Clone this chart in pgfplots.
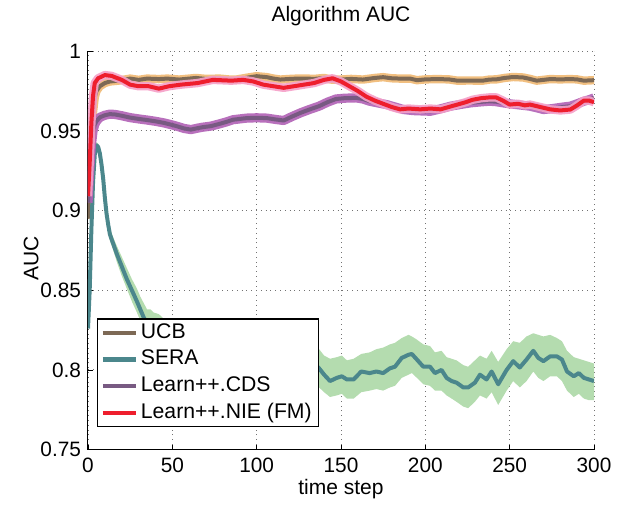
\documentclass[border=0pt]{standalone}
\usepackage{fontspec}
\setmainfont{Liberation Sans}
\usepackage{pgfplots}
\pgfplotsset{compat=1.18}
\usepackage{pgfplotstable}

\definecolor{ucbline}{HTML}{7D6955}
\definecolor{ucbband}{HTML}{EFB46A}
\definecolor{seraline}{HTML}{4B878C}
\definecolor{seraband}{HTML}{B4DCAF}
\definecolor{cdsline}{HTML}{785A82}
\definecolor{cdsband}{HTML}{B060B5}
\definecolor{nieline}{HTML}{EE1E2D}
\definecolor{nieband}{HTML}{F5A0C8}

% UCB mean AUC
\pgfplotstableread{
x y
0 0.895
1 0.920
2 0.945
3 0.962
4 0.971
5 0.975
7 0.978
10 0.980
13 0.981
18 0.9815
25 0.9828
30 0.9820
35 0.9828
42 0.9825
47 0.9828
54 0.9822
60 0.9828
64 0.9832
70 0.9826
78 0.9828
84 0.9822
88 0.9822
95 0.9835
100 0.9843
106 0.9837
110 0.9828
114 0.9822
120 0.9826
124 0.9828
130 0.9828
134 0.9826
140 0.9832
144 0.9822
150 0.9822
156 0.9826
163 0.9822
170 0.9832
175 0.9837
180 0.9830
185 0.9828
191 0.9828
195 0.9818
200 0.9823
207 0.9825
214 0.9823
219 0.9815
226 0.9816
234 0.9815
238 0.9822
242 0.9823
247 0.9832
252 0.9838
258 0.9835
262 0.9826
266 0.9815
270 0.9820
274 0.9825
280 0.9823
286 0.9825
290 0.9823
294 0.9815
300 0.9818
}\ucb

% SERA mean AUC
\pgfplotstableread{
x y
0 0.826
1 0.850
2 0.888
3 0.918
4 0.935
5 0.941
6 0.940
7 0.936
8 0.929
9 0.920
10 0.908
11 0.898
12 0.891
13 0.885
15 0.879
17 0.873
20 0.865
23 0.857
26 0.850
29 0.843
31 0.838
33 0.833
35 0.829
37 0.830
39 0.827
42 0.826
46 0.822
50 0.818
55 0.815
60 0.812
66 0.810
72 0.807
78 0.805
85 0.806
92 0.803
100 0.801
108 0.803
116 0.800
124 0.799
130 0.801
134 0.804
137 0.801
140 0.797
143.5 0.793
147.5 0.795
150.5 0.796
153.5 0.794
157.5 0.794
162 0.799
167 0.798
171 0.799
175 0.798
179 0.801
182 0.802
186 0.8075
190 0.8095
192 0.810
195 0.8065
198.8 0.802
202.8 0.802
205.7 0.798
209.6 0.800
212.6 0.795
215.6 0.793
218.5 0.792
222.5 0.789
225.4 0.789
229.4 0.792
232.4 0.797
236.3 0.794
239.3 0.799
243.2 0.791
248.2 0.800
252.1 0.8055
256 0.8015
260 0.8065
264 0.812
267 0.8075
270 0.8055
274 0.8085
278 0.8085
281 0.8065
284 0.799
288 0.796
291 0.798
294 0.795
297 0.794
300 0.793
}\sera

% SERA spread: upper edge forward, lower edge backward
\pgfplotstableread{
x y
0 0.826
1 0.851
2 0.890
3 0.920
4 0.937
5 0.943
6 0.942
7 0.938
8 0.932
9 0.923
10 0.911
11 0.901
12 0.894
13 0.889
15 0.883
17 0.878
20 0.871
23 0.864
26 0.857
29 0.851
31 0.846
33 0.842
35 0.838
37 0.838
39 0.836
42 0.835
46 0.831
50 0.828
55 0.825
60 0.822
66 0.820
72 0.818
78 0.816
85 0.817
92 0.814
100 0.812
108 0.815
116 0.812
124 0.811
130 0.813
134 0.815
137 0.813
140 0.809
143.5 0.807
147.5 0.808
150.5 0.809
153.5 0.806
157.5 0.807
162 0.810
167 0.811
171 0.813
175 0.814
179 0.816
182 0.817
186 0.820
190 0.822
192 0.821
195 0.819
198.8 0.816
202.8 0.815
205.7 0.811
209.6 0.812
212.6 0.808
215.6 0.807
218.5 0.806
222.5 0.803
225.4 0.802
229.4 0.806
232.4 0.809
236.3 0.807
239.3 0.812
243.2 0.805
248.2 0.813
252.1 0.818
256 0.817
260 0.821
264 0.823
267 0.822
270 0.821
274 0.822
278 0.820
281 0.818
284 0.812
288 0.808
291 0.807
294 0.806
297 0.805
300 0.804
300 0.781
297 0.781
294 0.782
291 0.785
288 0.783
284 0.787
281 0.793
278 0.796
274 0.796
270 0.793
267 0.795
264 0.799
260 0.793
256 0.789
252.1 0.793
248.2 0.787
243.2 0.778
239.3 0.786
236.3 0.782
232.4 0.784
229.4 0.780
225.4 0.776
222.5 0.777
218.5 0.780
215.6 0.782
212.6 0.784
209.6 0.787
205.7 0.787
202.8 0.790
198.8 0.791
195 0.795
192 0.798
190 0.797
186 0.795
182 0.790
179 0.789
175 0.787
171 0.788
167 0.787
162 0.786
157.5 0.782
153.5 0.782
150.5 0.785
147.5 0.784
143.5 0.783
140 0.786
137 0.789
134 0.792
130 0.789
124 0.788
116 0.789
108 0.792
100 0.790
92 0.792
85 0.795
78 0.794
72 0.797
66 0.800
60 0.803
55 0.806
50 0.809
46 0.813
42 0.817
39 0.819
37 0.822
35 0.821
33 0.826
31 0.831
29 0.836
26 0.843
23 0.851
20 0.859
17 0.868
15 0.875
13 0.881
12 0.888
11 0.895
10 0.905
9 0.917
8 0.926
7 0.934
6 0.938
5 0.939
4 0.933
3 0.916
2 0.886
1 0.849
0 0.826
}\seraband

% Learn++.CDS mean AUC
\pgfplotstableread{
x y
0 0.905
1 0.925
2 0.941
3 0.950
4 0.954
5 0.956
7 0.9585
10 0.9598
13 0.9605
16 0.9603
20 0.9595
25 0.9583
30 0.9575
35 0.9568
40 0.9560
45 0.9550
50 0.9537
53 0.9528
57 0.9515
61 0.9508
65 0.9517
68 0.9523
73 0.9530
78 0.9544
82 0.9556
86 0.9570
90 0.9575
94 0.9580
100 0.9582
106 0.9580
111 0.9572
116 0.9565
121 0.9590
126 0.9613
131 0.9633
137 0.9655
142 0.9680
147 0.9700
152 0.9705
159 0.9707
163 0.9700
167 0.9686
172 0.9675
177 0.9665
182 0.9650
187 0.9634
193 0.9627
198 0.9625
203 0.9623
209 0.9638
215 0.9655
221 0.9666
227 0.9676
233 0.9682
238 0.9686
242 0.9683
246 0.9676
250 0.9670
254 0.9665
258 0.9660
262 0.9655
266 0.9645
270 0.9634
274 0.9638
278 0.9644
282 0.9650
286 0.9655
290 0.9670
294 0.9686
297 0.9695
300 0.9707
}\cds

% Learn++.NIE (FM) mean AUC
\pgfplotstableread{
x y
0 0.909
1 0.930
2 0.955
3 0.972
4 0.980
6 0.983
10 0.985
14 0.9845
20 0.982
25 0.979
30 0.978
36 0.978
42 0.9765
48 0.978
55 0.979
65 0.980
74 0.982
85 0.9815
92 0.982
98 0.981
104 0.979
110 0.978
116 0.977
122 0.978
128 0.979
134 0.980
140 0.982
145 0.983
150 0.981
155 0.978
160 0.975
165 0.9715
170 0.969
175 0.967
180 0.965
185 0.9635
190 0.964
197 0.9635
203 0.964
209 0.9635
214 0.965
219 0.9665
224 0.968
228 0.9695
233 0.9705
238 0.971
242 0.971
246 0.969
250 0.9665
255 0.967
259 0.966
262 0.9665
268 0.965
274 0.9635
280 0.9628
286 0.9634
290 0.966
294 0.969
297 0.969
300 0.968
}\nie

\begin{document}
\begin{tikzpicture}
\begin{axis}[
  scale only axis,
  width=253pt,
  height=199.2pt,
  xmin=0, xmax=300,
  ymin=0.75, ymax=1,
  xtick={0,50,...,300},
  ytick={0.75,0.8,0.85,0.9,0.95,1},
  axis lines=left,
  axis line style={-, black, line width=0.5pt},
  tick align=inside,
  major tick length=2.5pt,
  tick style={black, line width=0.4pt},
  grid=major,
  major grid style={dotted, black!55, line width=0.45pt},
  /pgf/number format/assume math mode=true,
  yticklabel style={/pgf/number format/fixed, /pgf/number format/precision=2},
  ticklabel style={font=\fontsize{10.4}{12}\selectfont},
  xticklabel style={yshift=-0.6pt},
  title={Algorithm AUC},
  title style={font=\fontsize{10.5}{12}\selectfont, at={(axis description cs:0.5,1)}, anchor=base, yshift=8.65pt},
  xlabel={time step},
  xlabel style={font=\fontsize{10.5}{12}\selectfont, at={(axis description cs:0.5,0)}, anchor=base, yshift=-22.5pt},
  ylabel={AUC},
  ylabel style={font=\fontsize{10.5}{12}\selectfont, at={(axis description cs:-0.1126,0.48)}, anchor=center},
  legend cell align=left,
  legend image code/.code={\draw[#1] (0pt,0pt) -- (16.4pt,0pt);},
  legend style={at={(axis description cs:0.0178,0.0562)}, anchor=south west,
    draw=black, line width=0.6pt, fill=white,
    inner xsep=1.6pt, inner ysep=0.3pt,
    font=\fontsize{10.6}{12}\selectfont,
    nodes={inner sep=1.65pt, text height=7.7pt, text depth=2.3pt}},
]
% SERA spread
\addplot[fill=seraband, draw=none, forget plot] table[x=x, y=y] {\seraband} -- cycle;

% UCB
\addplot[ucbband, opacity=0.85, line width=4.2pt, line join=round, forget plot] table[x=x, y=y] {\ucb};
\addplot[ucbline, line width=2pt, line join=round] table[x=x, y=y] {\ucb};

% SERA
\addplot[seraline, line width=2pt, line join=round] table[x=x, y=y] {\sera};

% Learn++.CDS
\addplot[cdsband, opacity=0.9, line width=4.6pt, line join=round, forget plot] table[x=x, y=y] {\cds};
\addplot[cdsline, line width=2pt, line join=round] table[x=x, y=y] {\cds};

% Learn++.NIE (FM)
\addplot[nieband, opacity=0.9, line width=4.2pt, line join=round, forget plot] table[x=x, y=y] {\nie};
\addplot[nieline, line width=2pt, line join=round] table[x=x, y=y] {\nie};

\legend{UCB, SERA, Learn++.CDS, Learn++.NIE (FM)}
\end{axis}
\path[use as bounding box] (-44pt,-27.15pt) rectangle (268.5pt,220.85pt);
\end{tikzpicture}
\end{document}
